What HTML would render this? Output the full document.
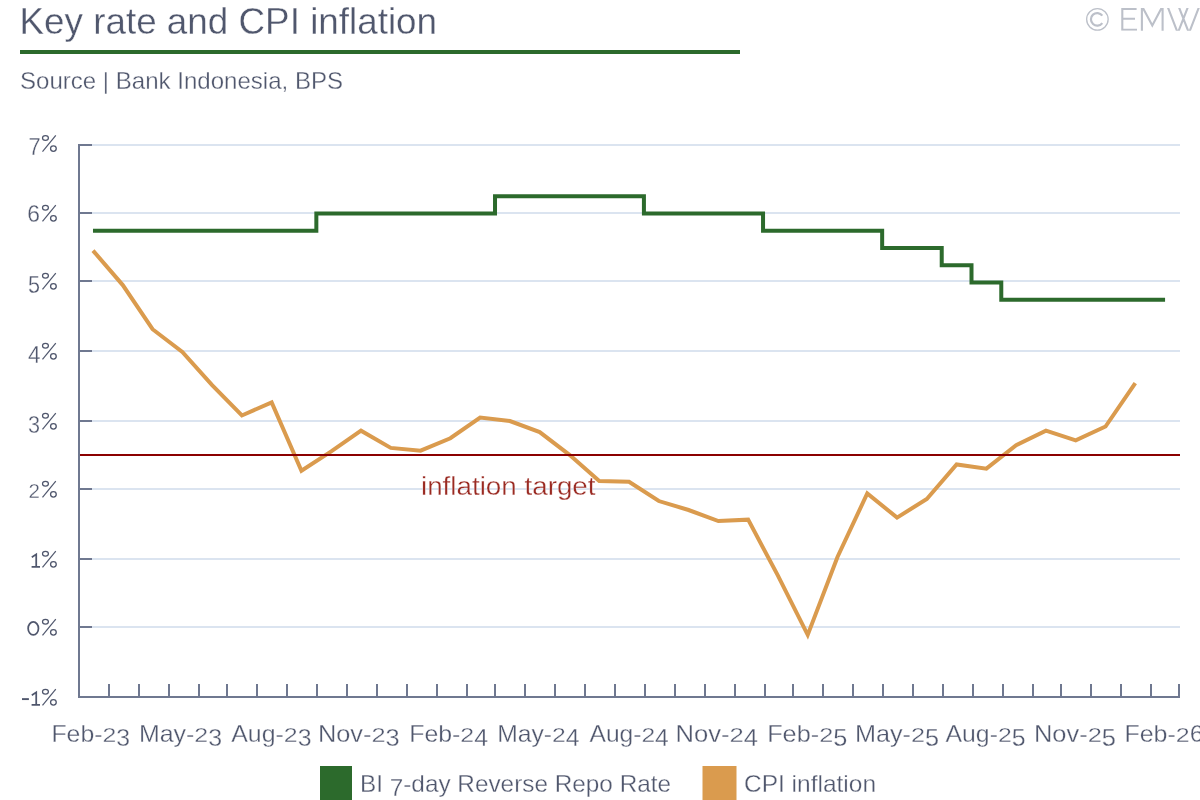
<!DOCTYPE html>
<html><head><meta charset="utf-8"><style>
html,body{margin:0;padding:0;background:#fff;width:1200px;height:800px;overflow:hidden}
svg{display:block;will-change:transform}
text{font-family:"Liberation Sans",sans-serif;stroke:#fff;stroke-width:0.3px}
.lab{fill:#50576d}
</style></head><body>
<svg width="1200" height="800" viewBox="0 0 1200 800">
<text x="19.47" y="34" textLength="417.60" lengthAdjust="spacingAndGlyphs" style="font-size:36.0px;fill:#50576d">Key rate and CPI inflation</text>
<rect x="20" y="50" width="720" height="4" fill="#2c6a2c"/>
<text x="19.99" y="89" textLength="323.06" lengthAdjust="spacingAndGlyphs" style="font-size:24px;fill:#50576d">Source | Bank Indonesia, BPS</text>
<defs><clipPath id="cpc"><rect x="1110" y="7.9" width="100" height="22.9"/></clipPath></defs>
<g fill="none" stroke="#bcc0c9" stroke-width="2.1">
<circle cx="1097.4" cy="19.35" r="10.75" stroke-width="1.3"/>
<path d="M1102.3,15.6 A6.3,6.3 0 1 0 1102.3,23.1" stroke-width="2.2"/>
<g clip-path="url(#cpc)">
<path d="M1136.6,9 H1122.3 V29.8 H1137 M1122.3,18.8 H1135"/>
<path d="M1141.9,31 V5 M1162.6,31 V5 M1141.9,6 L1152.3,25.6 L1162.6,6" stroke-linejoin="miter" stroke-miterlimit="10"/>
<path d="M1166.6,4 L1177.8,33 L1189.1,4 M1177.7,4 L1189,33 L1200.2,4" stroke-linejoin="miter" stroke-miterlimit="10"/>
</g></g>
<rect x="92" y="144" width="1088" height="2" fill="#dbe4f0"/>
<rect x="80" y="144" width="12" height="2" fill="#6f7890"/>
<rect x="92" y="212" width="1088" height="2" fill="#dbe4f0"/>
<rect x="80" y="212" width="12" height="2" fill="#6f7890"/>
<rect x="92" y="280" width="1088" height="2" fill="#dbe4f0"/>
<rect x="80" y="280" width="12" height="2" fill="#6f7890"/>
<rect x="92" y="350" width="1088" height="2" fill="#dbe4f0"/>
<rect x="80" y="350" width="12" height="2" fill="#6f7890"/>
<rect x="92" y="420" width="1088" height="2" fill="#dbe4f0"/>
<rect x="80" y="420" width="12" height="2" fill="#6f7890"/>
<rect x="92" y="488" width="1088" height="2" fill="#dbe4f0"/>
<rect x="80" y="488" width="12" height="2" fill="#6f7890"/>
<rect x="92" y="558" width="1088" height="2" fill="#dbe4f0"/>
<rect x="80" y="558" width="12" height="2" fill="#6f7890"/>
<rect x="92" y="626" width="1088" height="2" fill="#dbe4f0"/>
<rect x="80" y="626" width="12" height="2" fill="#6f7890"/>
<rect x="78" y="144" width="2" height="554" fill="#6f7890"/>
<rect x="78" y="696" width="1102" height="2" fill="#6f7890"/>
<rect x="108" y="684" width="2" height="12" fill="#6f7890"/>
<rect x="138" y="684" width="2" height="12" fill="#6f7890"/>
<rect x="168" y="684" width="2" height="12" fill="#6f7890"/>
<rect x="198" y="684" width="2" height="12" fill="#6f7890"/>
<rect x="226" y="684" width="2" height="12" fill="#6f7890"/>
<rect x="256" y="684" width="2" height="12" fill="#6f7890"/>
<rect x="286" y="684" width="2" height="12" fill="#6f7890"/>
<rect x="316" y="684" width="2" height="12" fill="#6f7890"/>
<rect x="346" y="684" width="2" height="12" fill="#6f7890"/>
<rect x="376" y="684" width="2" height="12" fill="#6f7890"/>
<rect x="406" y="684" width="2" height="12" fill="#6f7890"/>
<rect x="436" y="684" width="2" height="12" fill="#6f7890"/>
<rect x="466" y="684" width="2" height="12" fill="#6f7890"/>
<rect x="494" y="684" width="2" height="12" fill="#6f7890"/>
<rect x="524" y="684" width="2" height="12" fill="#6f7890"/>
<rect x="554" y="684" width="2" height="12" fill="#6f7890"/>
<rect x="584" y="684" width="2" height="12" fill="#6f7890"/>
<rect x="614" y="684" width="2" height="12" fill="#6f7890"/>
<rect x="644" y="684" width="2" height="12" fill="#6f7890"/>
<rect x="674" y="684" width="2" height="12" fill="#6f7890"/>
<rect x="704" y="684" width="2" height="12" fill="#6f7890"/>
<rect x="734" y="684" width="2" height="12" fill="#6f7890"/>
<rect x="764" y="684" width="2" height="12" fill="#6f7890"/>
<rect x="792" y="684" width="2" height="12" fill="#6f7890"/>
<rect x="822" y="684" width="2" height="12" fill="#6f7890"/>
<rect x="852" y="684" width="2" height="12" fill="#6f7890"/>
<rect x="882" y="684" width="2" height="12" fill="#6f7890"/>
<rect x="912" y="684" width="2" height="12" fill="#6f7890"/>
<rect x="942" y="684" width="2" height="12" fill="#6f7890"/>
<rect x="972" y="684" width="2" height="12" fill="#6f7890"/>
<rect x="1002" y="684" width="2" height="12" fill="#6f7890"/>
<rect x="1032" y="684" width="2" height="12" fill="#6f7890"/>
<rect x="1060" y="684" width="2" height="12" fill="#6f7890"/>
<rect x="1090" y="684" width="2" height="12" fill="#6f7890"/>
<rect x="1120" y="684" width="2" height="12" fill="#6f7890"/>
<rect x="1150" y="684" width="2" height="12" fill="#6f7890"/>
<rect x="1178" y="684" width="2" height="12" fill="#6f7890"/>
<g fill="none" stroke="#50576d"><ellipse cx="45.45" cy="138.05" rx="2.95" ry="2.35" stroke-width="1.25"/><ellipse cx="53.40" cy="148.60" rx="2.85" ry="2.75" stroke-width="1.3"/><path d="M42.50,151.70 L55.80,135.30" stroke-width="1.2"/></g>
<text x="28.50" y="155.4" textLength="12.14" lengthAdjust="spacingAndGlyphs" style="font-size:24px;fill:#50576d">7</text>
<g fill="none" stroke="#50576d"><ellipse cx="45.45" cy="207.80" rx="2.95" ry="2.35" stroke-width="1.25"/><ellipse cx="53.40" cy="218.35" rx="2.85" ry="2.75" stroke-width="1.3"/><path d="M42.50,221.45 L55.80,205.05" stroke-width="1.2"/></g>
<text x="27.30" y="221.75" textLength="12.75" lengthAdjust="spacingAndGlyphs" style="font-size:24px;fill:#50576d">6</text>
<g fill="none" stroke="#50576d"><ellipse cx="45.45" cy="275.80" rx="2.95" ry="2.35" stroke-width="1.25"/><ellipse cx="53.40" cy="286.35" rx="2.85" ry="2.75" stroke-width="1.3"/><path d="M42.50,289.45 L55.80,273.05" stroke-width="1.2"/></g>
<text x="28.00" y="293.15" textLength="12.04" lengthAdjust="spacingAndGlyphs" style="font-size:24px;fill:#50576d">5</text>
<g fill="none" stroke="#50576d"><ellipse cx="45.45" cy="345.80" rx="2.95" ry="2.35" stroke-width="1.25"/><ellipse cx="53.40" cy="356.35" rx="2.85" ry="2.75" stroke-width="1.3"/><path d="M42.50,359.45 L55.80,343.05" stroke-width="1.2"/></g>
<text x="28.00" y="363.15" textLength="12.55" lengthAdjust="spacingAndGlyphs" style="font-size:24px;fill:#50576d">4</text>
<g fill="none" stroke="#50576d"><ellipse cx="45.45" cy="415.80" rx="2.95" ry="2.35" stroke-width="1.25"/><ellipse cx="53.40" cy="426.35" rx="2.85" ry="2.75" stroke-width="1.3"/><path d="M42.50,429.45 L55.80,413.05" stroke-width="1.2"/></g>
<text x="28.00" y="433.15" textLength="12.04" lengthAdjust="spacingAndGlyphs" style="font-size:24px;fill:#50576d">3</text>
<g fill="none" stroke="#50576d"><ellipse cx="45.45" cy="483.80" rx="2.95" ry="2.35" stroke-width="1.25"/><ellipse cx="53.40" cy="494.35" rx="2.85" ry="2.75" stroke-width="1.3"/><path d="M42.50,497.45 L55.80,481.05" stroke-width="1.2"/></g>
<text x="28.60" y="497.75" textLength="11.44" lengthAdjust="spacingAndGlyphs" transform="translate(0,84.618) scale(1,0.83)" style="font-size:24px;fill:#50576d;stroke-width:0.36px">2</text>
<g fill="none" stroke="#50576d"><ellipse cx="45.45" cy="553.80" rx="2.95" ry="2.35" stroke-width="1.25"/><ellipse cx="53.40" cy="564.35" rx="2.85" ry="2.75" stroke-width="1.3"/><path d="M42.50,567.45 L55.80,551.05" stroke-width="1.2"/></g>
<path d="M31.80,557.15 L36.22,554.25 V566.95 M31.60,566.95 H40.00" fill="none" stroke="#50576d" stroke-width="1.75" stroke-linejoin="miter"/>
<g fill="none" stroke="#50576d"><ellipse cx="45.45" cy="621.80" rx="2.95" ry="2.35" stroke-width="1.25"/><ellipse cx="53.40" cy="632.35" rx="2.85" ry="2.75" stroke-width="1.3"/><path d="M42.50,635.45 L55.80,619.05" stroke-width="1.2"/></g>
<ellipse cx="33.3" cy="628.40" rx="5.15" ry="6.45" fill="none" stroke="#50576d" stroke-width="1.75"/>
<g fill="none" stroke="#50576d"><ellipse cx="45.45" cy="691.80" rx="2.95" ry="2.35" stroke-width="1.25"/><ellipse cx="53.40" cy="702.35" rx="2.85" ry="2.75" stroke-width="1.3"/><path d="M42.50,705.45 L55.80,689.05" stroke-width="1.2"/></g>
<rect x="22" y="698.15" width="6.9" height="1.9" fill="#50576d"/>
<path d="M31.80,695.15 L36.22,692.25 V704.95 M31.60,704.95 H40.00" fill="none" stroke="#50576d" stroke-width="1.75" stroke-linejoin="miter"/>
<text x="51.44" y="742" textLength="51.05" lengthAdjust="spacingAndGlyphs" style="font-size:24px;fill:#50576d">Feb-</text><text x="102.47" y="742" textLength="13.82" lengthAdjust="spacingAndGlyphs" transform="translate(0,126.140) scale(1,0.83)" style="font-size:24px;fill:#50576d;stroke-width:0.36px">2</text><text x="116.28" y="745.7" textLength="13.82" lengthAdjust="spacingAndGlyphs" style="font-size:24px;fill:#50576d">3</text>
<text x="138.91" y="742" textLength="55.43" lengthAdjust="spacingAndGlyphs" style="font-size:24px;fill:#50576d">May-</text><text x="194.32" y="742" textLength="13.88" lengthAdjust="spacingAndGlyphs" transform="translate(0,126.140) scale(1,0.83)" style="font-size:24px;fill:#50576d;stroke-width:0.36px">2</text><text x="208.19" y="745.7" textLength="13.88" lengthAdjust="spacingAndGlyphs" style="font-size:24px;fill:#50576d">3</text>
<text x="231.24" y="742" textLength="52.59" lengthAdjust="spacingAndGlyphs" style="font-size:24px;fill:#50576d">Aug-</text><text x="283.81" y="742" textLength="13.86" lengthAdjust="spacingAndGlyphs" transform="translate(0,126.140) scale(1,0.83)" style="font-size:24px;fill:#50576d;stroke-width:0.36px">2</text><text x="297.65" y="745.7" textLength="13.86" lengthAdjust="spacingAndGlyphs" style="font-size:24px;fill:#50576d">3</text>
<text x="317.92" y="742" textLength="53.59" lengthAdjust="spacingAndGlyphs" style="font-size:24px;fill:#50576d">Nov-</text><text x="371.51" y="742" textLength="14.13" lengthAdjust="spacingAndGlyphs" transform="translate(0,126.140) scale(1,0.83)" style="font-size:24px;fill:#50576d;stroke-width:0.36px">2</text><text x="385.62" y="745.7" textLength="14.13" lengthAdjust="spacingAndGlyphs" style="font-size:24px;fill:#50576d">3</text>
<text x="409.20" y="742" textLength="51.18" lengthAdjust="spacingAndGlyphs" style="font-size:24px;fill:#50576d">Feb-</text><text x="460.36" y="742" textLength="13.85" lengthAdjust="spacingAndGlyphs" transform="translate(0,126.140) scale(1,0.83)" style="font-size:24px;fill:#50576d;stroke-width:0.36px">2</text><text x="474.20" y="745.7" textLength="13.85" lengthAdjust="spacingAndGlyphs" style="font-size:24px;fill:#50576d">4</text>
<text x="497.20" y="742" textLength="54.89" lengthAdjust="spacingAndGlyphs" style="font-size:24px;fill:#50576d">May-</text><text x="552.07" y="742" textLength="13.75" lengthAdjust="spacingAndGlyphs" transform="translate(0,126.140) scale(1,0.83)" style="font-size:24px;fill:#50576d;stroke-width:0.36px">2</text><text x="565.81" y="745.7" textLength="13.75" lengthAdjust="spacingAndGlyphs" style="font-size:24px;fill:#50576d">4</text>
<text x="589.49" y="742" textLength="51.93" lengthAdjust="spacingAndGlyphs" style="font-size:24px;fill:#50576d">Aug-</text><text x="641.40" y="742" textLength="13.68" lengthAdjust="spacingAndGlyphs" transform="translate(0,126.140) scale(1,0.83)" style="font-size:24px;fill:#50576d;stroke-width:0.36px">2</text><text x="655.07" y="745.7" textLength="13.68" lengthAdjust="spacingAndGlyphs" style="font-size:24px;fill:#50576d">4</text>
<text x="675.43" y="742" textLength="54.08" lengthAdjust="spacingAndGlyphs" style="font-size:24px;fill:#50576d">Nov-</text><text x="729.51" y="742" textLength="14.26" lengthAdjust="spacingAndGlyphs" transform="translate(0,126.140) scale(1,0.83)" style="font-size:24px;fill:#50576d;stroke-width:0.36px">2</text><text x="743.75" y="745.7" textLength="14.26" lengthAdjust="spacingAndGlyphs" style="font-size:24px;fill:#50576d">4</text>
<text x="767.17" y="742" textLength="52.05" lengthAdjust="spacingAndGlyphs" style="font-size:24px;fill:#50576d">Feb-</text><text x="819.20" y="742" textLength="14.09" lengthAdjust="spacingAndGlyphs" transform="translate(0,126.140) scale(1,0.83)" style="font-size:24px;fill:#50576d;stroke-width:0.36px">2</text><text x="833.27" y="745.7" textLength="14.09" lengthAdjust="spacingAndGlyphs" style="font-size:24px;fill:#50576d">5</text>
<text x="854.92" y="742" textLength="56.09" lengthAdjust="spacingAndGlyphs" style="font-size:24px;fill:#50576d">May-</text><text x="910.99" y="742" textLength="14.05" lengthAdjust="spacingAndGlyphs" transform="translate(0,126.140) scale(1,0.83)" style="font-size:24px;fill:#50576d;stroke-width:0.36px">2</text><text x="925.02" y="745.7" textLength="14.05" lengthAdjust="spacingAndGlyphs" style="font-size:24px;fill:#50576d">5</text>
<text x="945.49" y="742" textLength="52.42" lengthAdjust="spacingAndGlyphs" style="font-size:24px;fill:#50576d">Aug-</text><text x="997.89" y="742" textLength="13.81" lengthAdjust="spacingAndGlyphs" transform="translate(0,126.140) scale(1,0.83)" style="font-size:24px;fill:#50576d;stroke-width:0.36px">2</text><text x="1011.69" y="745.7" textLength="13.81" lengthAdjust="spacingAndGlyphs" style="font-size:24px;fill:#50576d">5</text>
<text x="1033.91" y="742" textLength="53.76" lengthAdjust="spacingAndGlyphs" style="font-size:24px;fill:#50576d">Nov-</text><text x="1087.67" y="742" textLength="14.17" lengthAdjust="spacingAndGlyphs" transform="translate(0,126.140) scale(1,0.83)" style="font-size:24px;fill:#50576d;stroke-width:0.36px">2</text><text x="1101.83" y="745.7" textLength="14.17" lengthAdjust="spacingAndGlyphs" style="font-size:24px;fill:#50576d">5</text>
<text x="1124.40" y="742" textLength="51.39" lengthAdjust="spacingAndGlyphs" style="font-size:24px;fill:#50576d">Feb-</text><text x="1175.77" y="742" textLength="13.91" lengthAdjust="spacingAndGlyphs" transform="translate(0,126.140) scale(1,0.83)" style="font-size:24px;fill:#50576d;stroke-width:0.36px">2</text><text x="1189.67" y="742" textLength="13.91" lengthAdjust="spacingAndGlyphs" style="font-size:24px;fill:#50576d">6</text>
<path d="M92.99,230.75 H316.34 V213.50 H495.02 V196.25 H643.92 V213.50 H763.04 V230.75 H882.16 V248.00 H941.72 V265.25 H971.50 V282.50 H1001.28 V299.75 H1165.07" fill="none" stroke="#2c6a2c" stroke-width="4"/>
<path d="M92.99,250.57 L122.77,285.07 L152.55,329.23 L182.33,352.00 L212.11,385.12 L241.89,415.48 L271.67,402.37 L301.45,470.68 L331.23,451.36 L361.01,430.66 L390.79,447.91 L420.57,450.67 L450.35,438.25 L480.13,417.55 L509.91,421.00 L539.69,432.04 L569.47,454.81 L599.25,481.03 L629.03,481.72 L658.81,501.04 L688.59,510.01 L718.37,521.05 L748.15,519.67 L777.93,575.56 L807.71,634.90 L837.49,556.93 L867.27,493.45 L897.05,517.60 L926.83,498.97 L956.61,464.47 L986.39,468.61 L1016.17,445.15 L1045.95,430.66 L1075.73,440.32 L1105.51,426.52 L1135.29,383.05" fill="none" stroke="#da9b4e" stroke-width="4"/>
<rect x="80" y="454" width="1100" height="2" fill="#8b0000"/>
<text x="420.97" y="495" textLength="174.55" lengthAdjust="spacingAndGlyphs" style="font-size:26px;fill:#9a2a22">inflation target</text>
<rect x="320" y="766" width="32" height="34" fill="#2c6a2c"/>
<text x="359.98" y="792" textLength="23.00" lengthAdjust="spacingAndGlyphs" style="font-size:24px;fill:#50576d">BI</text><text x="389.73" y="795.7" textLength="13.54" lengthAdjust="spacingAndGlyphs" style="font-size:24px;fill:#50576d">7</text><text x="403.26" y="792" textLength="267.79" lengthAdjust="spacingAndGlyphs" style="font-size:24px;fill:#50576d">-day Reverse Repo Rate</text>
<rect x="702.5" y="766" width="34" height="34" fill="#da9b4e"/>
<text x="743.98" y="792" textLength="132.04" lengthAdjust="spacingAndGlyphs" style="font-size:24px;fill:#50576d">CPI inflation</text>
</svg>
</body></html>
